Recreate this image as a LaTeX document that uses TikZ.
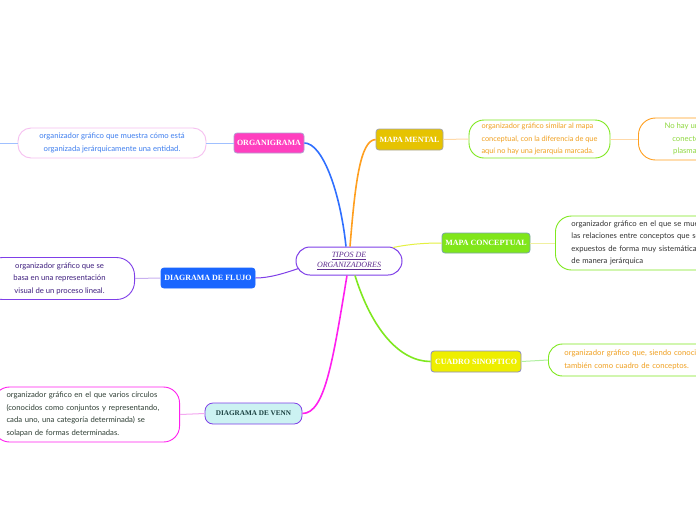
\documentclass[tikz,border=0pt]{standalone}
\usepackage{fontspec}
\setmainfont{Liberation Serif}
\newfontfamily\handfont{Lato}
\definecolor{cBlue}{HTML}{2F6FFF}
\definecolor{cOrange}{HTML}{FF9F1F}
\definecolor{cYellowLine}{HTML}{E4F040}
\definecolor{cGreen}{HTML}{7FE81F}
\definecolor{cMagenta}{HTML}{FF1FEF}
\definecolor{cPurple}{HTML}{7F3FE8}
\definecolor{cPink}{HTML}{FF3FBF}
\definecolor{cMustard}{HTML}{E6C300}
\definecolor{cLime}{HTML}{80E61A}
\definecolor{cYellow}{HTML}{EEEE00}
\definecolor{cFlow}{HTML}{1A66FF}
\definecolor{cVenn}{HTML}{CCF2F2}
\definecolor{cVennText}{HTML}{1A4040}
\definecolor{cCenterText}{HTML}{5F2F8F}
\definecolor{cLightBlue}{HTML}{A0C0FF}
\definecolor{cLightOrange}{HTML}{FFD9A8}
\definecolor{cLightYellow}{HTML}{F0F0A0}
\definecolor{cLightGreen}{HTML}{B0F0A0}
\definecolor{cLightPurple}{HTML}{C8B0F0}
\definecolor{cLightMagenta}{HTML}{F4A8F0}
\definecolor{cPalePink}{HTML}{F6C0F0}
\definecolor{cTextBlue}{HTML}{3F7FEF}
\definecolor{cTextOrange}{HTML}{F0A020}
\definecolor{cTextGreen}{HTML}{8FD840}
\definecolor{cTextDark}{HTML}{333333}
\definecolor{cTextPurple}{HTML}{3F1F7F}
\definecolor{cTextVenn}{HTML}{2F3F35}
\tikzset{
  topic/.style={draw, line width=0.8pt, rounded corners=3pt, text=white,
    font=\bfseries\fontsize{8}{9}\selectfont, inner xsep=3pt, inner ysep=3pt,
    minimum height=20pt},
  pill/.style={draw, line width=0.9pt, rounded corners=13pt,
    font=\handfont\fontsize{7.7}{12.5}\selectfont, inner ysep=3pt},
  branch/.style={line width=1.6pt},
  twig/.style={line width=1pt}
}
\begin{document}
\begin{tikzpicture}[x=1pt,y=-1pt]
\useasboundingbox (0,0) rectangle (696,520);
\fill[white] (0,0) rectangle (696,520);

% central node
\node[draw=cPurple, line width=1pt, rounded corners=14pt, minimum width=106pt,
  minimum height=28pt, align=center, text=cCenterText,
  font=\itshape\fontsize{8}{10.5}\selectfont, inner sep=2pt]
  (center) at (349,261) {\underline{TIPOS DE}\\\underline{ORGANIZADORES}};

% topic nodes
\node[topic, fill=cPink, draw=cPurple!50!gray!60, minimum width=70pt] (org) at (269,143) {ORGANIGRAMA};
\node[topic, fill=cMustard, draw=gray!70, minimum width=67pt, minimum height=21pt] (mm) at (409.5,139.5) {MAPA MENTAL};
\node[topic, fill=cLime, draw=teal!50!gray!70, minimum width=88pt] (mc) at (486,243) {MAPA CONCEPTUAL};
\node[topic, fill=cYellow, draw=blue!30!gray!70, minimum width=90pt, minimum height=21pt] (cs) at (476,361.5) {CUADRO SINOPTICO};
\node[topic, fill=cFlow, draw=cFlow, minimum width=94pt] (df) at (208,278) {DIAGRAMA DE FLUJO};
\node[topic, fill=cVenn, draw=cPurple, text=cVennText, rounded corners=8pt,
  minimum width=97pt, minimum height=21pt, font=\bfseries\fontsize{7.2}{9}\selectfont] (dv) at (253.5,413.5) {DIAGRAMA DE VENN};

% description pills
\node[pill, draw=cPalePink, text=cTextBlue, align=center, minimum width=188pt,
  minimum height=30pt] (porg) at (112,143)
  {organizador gráfico que muestra cómo está\\organizada jerárquicamente una entidad.};
\node[pill, draw=cGreen, text=cTextOrange, align=left, minimum width=141pt,
  minimum height=38pt, rounded corners=15pt, inner xsep=2pt,
  font=\handfont\fontsize{7.4}{12.5}\selectfont] (pmm) at (539.5,139)
  {organizador gráfico similar al mapa\\conceptual, con la diferencia de que\\aquí no hay una jerarquía marcada.};
\node[pill, draw=cOrange, text=cTextGreen, align=center, minimum width=150pt,
  minimum height=42pt, rounded corners=17pt, anchor=west] (pmm2) at (638,139)
  {No hay un orden jerárquico y\\conectores que unen los\\plasman las relaciones y};
\node[pill, draw=cGreen, text=cTextDark, align=left, text width=200pt,
  inner xsep=16pt, minimum height=54pt, rounded corners=16pt, anchor=west] (pmc) at (555,243)
  {organizador gráfico en el que se muestran\\las relaciones entre conceptos que son\\expuestos de forma muy sistemática\\de manera jerárquica};
\node[pill, draw=cGreen, text=cTextOrange, align=left, text width=200pt,
  inner xsep=16pt, minimum height=32pt, rounded corners=14pt, anchor=west] (pcs) at (548,360)
  {organizador gráfico que, siendo conocido\\también como cuadro de conceptos.};
\node[pill, draw=cPurple, text=cTextPurple, align=center, minimum width=150pt,
  minimum height=42pt, rounded corners=18pt, anchor=east] (pdf) at (135,278.5)
  {organizador gráfico que se\\basa en una representación\\visual de un proceso lineal.};
\node[pill, draw=cMagenta, text=cTextVenn, align=left, text width=160pt,
  inner xsep=13pt, minimum height=55pt, rounded corners=16pt, anchor=east] (pdv) at (180,414.5)
  {organizador gráfico en el que varios círculos\\(conocidos como conjuntos y representando,\\cada uno, una categoría determinada) se\\solapan de formas determinadas.};

% start points on central node
\coordinate (sBlue) at ([xshift=-3pt]center.north);
\coordinate (sOrange) at ([xshift=1pt]center.north);
\coordinate (sYellow) at ([xshift=44pt,yshift=-1pt]center.north);
\coordinate (sGreen) at ([xshift=6pt]center.south);
\coordinate (sMagenta) at ([xshift=-2pt]center.south);
\coordinate (sPurple) at ([xshift=3pt,yshift=7pt]center.south west);
\coordinate (leftEnd) at (0,143);

% main branches
\draw[branch, cBlue] (sBlue) .. controls (340,190) and (322,143) .. (org.east);
\draw[branch, cOrange] (sOrange) .. controls (355,185) and (360,140) .. (mm.west);
\draw[twig, cYellowLine] (sYellow) .. controls (410,244) and (425,243) .. (mc.west);
\draw[branch, cGreen] (sGreen) .. controls (372,330) and (400,361.5) .. (cs.west);
\draw[branch, cMagenta] (sMagenta) .. controls (333,360) and (325,413.5) .. (dv.east);
\draw[twig, cPurple] (sPurple) .. controls (285,273) and (270,278) .. (df.east);

% twigs to pills
\draw[twig, cLightBlue] (org.west) -- (porg.east);
\draw[twig, cLightBlue] (porg.west) -- (leftEnd);
\draw[twig, cLightOrange] (mm.east) -- (pmm.west);
\draw[twig, cLightOrange] (pmm.east) -- (pmm2.west);
\draw[twig, cLightYellow] (mc.east) -- (pmc.west);
\draw[twig, cLightGreen] (cs.east) -- (pcs.west);
\draw[twig, cLightPurple] (df.west) -- (pdf.east);
\draw[twig, cLightMagenta] (dv.west) -- (pdv.east);
\end{tikzpicture}
\end{document}
